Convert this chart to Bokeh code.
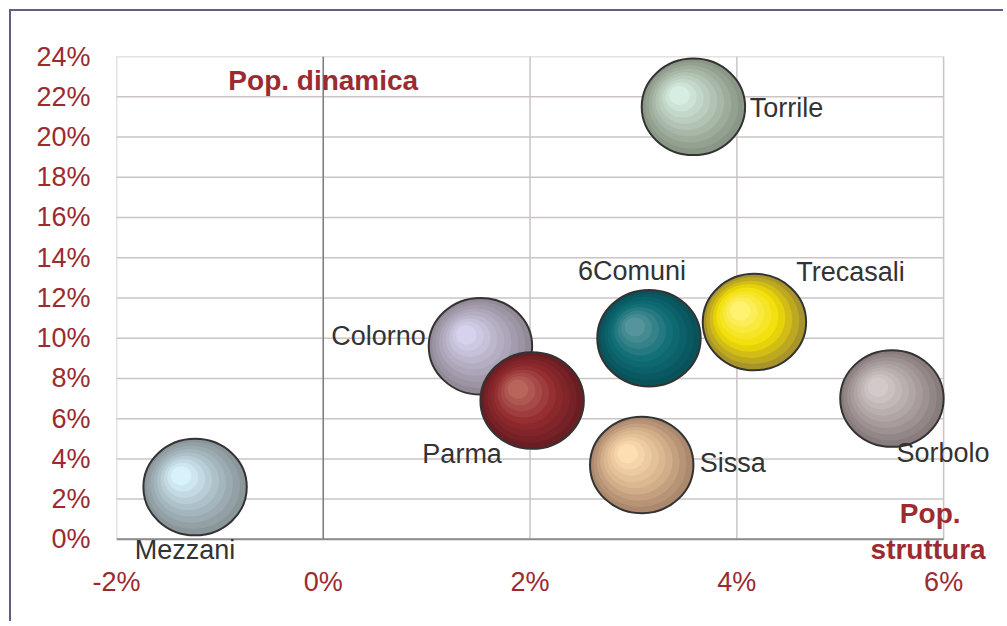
import numpy as np
from bokeh.plotting import figure
from bokeh.core.properties import value
from bokeh.models import (ColumnDataSource, FixedTicker, PrintfTickFormatter,
                          BoxAnnotation, Label, LabelSet, Range1d)
from bokeh.embed import file_html
from bokeh.resources import INLINE

# ---------------- data ----------------
names = ["Mezzani", "Colorno", "Parma", "6Comuni", "Sissa", "Trecasali", "Sorbolo", "Torrile"]
pop_struttura = [-1.24, 1.52, 2.02, 3.15, 3.08, 4.17, 5.50, 3.58]   # x, %
pop_dinamica = [2.6, 9.6, 6.9, 10.0, 3.7, 10.8, 7.0, 21.5]         # y, %
x_ticks = [-2, 0, 2, 4, 6]
y_ticks = [0, 2, 4, 6, 8, 10, 12, 14, 16, 18, 20, 22, 24]
X_MIN, X_MAX = -2, 6
Y_MIN, Y_MAX = 0, 24

# ---------------- style ----------------
outer_col = ["#8A969A", "#938A98", "#6A1E23", "#09525A", "#AC886E", "#A8942A", "#887C7C", "#8A9686"]
mid_col   = ["#A9BCC4", "#B2AABE", "#922A2E", "#0E6C75", "#D9B48E", "#F2DE05", "#ADA2A2", "#AEBEAE"]
inner_col = ["#D8F2FC", "#D6D2EE", "#B8655C", "#55949A", "#FDDDB2", "#FFF270", "#D2CACA", "#D6EEE2"]
label_dx = [-10, -102, -70, -17, 91, 96, 51, 93]
label_dy = [-63, 10, -53, 67, 2, 50, -54, -1]

RED = "#9B2B30"
FONT = "Liberation Sans"
GRID = "#CBC4C4"

def hex2rgb(h):
    h = h.lstrip("#")
    return np.array([int(h[i:i + 2], 16) for i in (0, 2, 4)], dtype=float)

def rgb2hex(c):
    c = np.clip(np.round(c), 0, 255).astype(int)
    return "#%02x%02x%02x" % tuple(c)

def grad(o, m, i, t):
    o, m, i = hex2rgb(o), hex2rgb(m), hex2rgb(i)
    if t < 0.45:
        return rgb2hex(o + (m - o) * (t / 0.45))
    return rgb2hex(m + (i - m) * ((t - 0.45) / 0.55))

BW, BH = 1.0, 4.8          # bubble width / height in data units
HX, HY = -0.17, 0.7        # highlight offset
N = 9
rx, ry, rw, rh, rc, la = [], [], [], [], [], []
for b in range(len(names)):
    for k in range(N):
        t = k / (N - 1)
        s = 1 - 0.8 * t
        rx.append(pop_struttura[b] + (1 - s) * HX)
        ry.append(pop_dinamica[b] + (1 - s) * HY)
        rw.append(BW * s)
        rh.append(BH * s)
        rc.append(grad(outer_col[b], mid_col[b], inner_col[b], t))
        la.append(1.0 if k == 0 else 0.0)
rings = ColumnDataSource(dict(x=rx, y=ry, w=rw, h=rh, c=rc, la=la))

W, H = 994, 612
p = figure(width=W, height=H, output_backend="svg", toolbar_location=None,
           x_range=Range1d(X_MIN, 6.55), y_range=Range1d(-1.15, Y_MAX),
           min_border_left=105, min_border_right=5, min_border_top=45, min_border_bottom=61)
p.styles = {"margin": "9px 0px 0px 9px",
            "border-left": "2px solid #5E5E86", "border-top": "2px solid #5E5E86"}
p.background_fill_color = "white"
p.border_fill_color = "white"
p.outline_line_color = None

p.xaxis.ticker = FixedTicker(ticks=x_ticks)
p.yaxis.ticker = FixedTicker(ticks=y_ticks)
for ax in (p.xaxis[0], p.yaxis[0]):
    ax.formatter = PrintfTickFormatter(format="%d%%")
    ax.major_label_text_font = FONT
    ax.major_label_text_font_size = "27px"
    ax.major_label_text_color = RED
    ax.major_tick_line_color = None
    ax.minor_tick_line_color = None
    ax.axis_line_color = None
p.yaxis.major_label_standoff = 20
p.xaxis.major_label_standoff = -2

# gridlines restricted to the plot area (-2..6, 0..24)
p.xgrid.visible = False
p.ygrid.visible = False
p.segment(x0=x_ticks, y0=[Y_MIN] * len(x_ticks), x1=x_ticks, y1=[Y_MAX] * len(x_ticks),
          line_color=GRID, line_width=1.5, level="underlay")
p.segment(x0=[X_MIN] * len(y_ticks), y0=y_ticks, x1=[X_MAX] * len(y_ticks), y1=y_ticks,
          line_color=GRID, line_width=1.5, level="underlay")

# bottom axis line and the 0% vertical line
p.add_layout(BoxAnnotation(left=X_MIN, right=X_MAX, bottom=Y_MIN - 0.05, top=Y_MIN + 0.05,
                           fill_color="#8C8C8C", fill_alpha=1, line_color=None, level="underlay"))
p.add_layout(BoxAnnotation(left=-0.007, right=0.007, bottom=Y_MIN, top=Y_MAX,
                           fill_color="#7E7E7E", fill_alpha=1, line_color=None, level="underlay"))

p.ellipse(x="x", y="y", width="w", height="h", source=rings, fill_color="c",
          line_color="#333333", line_width=2, line_alpha="la")

lbl = ColumnDataSource(dict(x=pop_struttura, y=pop_dinamica, t=names, dx=label_dx, dy=label_dy))
p.add_layout(LabelSet(x="x", y="y", text="t", source=lbl, x_offset="dx", y_offset="dy",
                      text_align="center", text_baseline="middle", text_font=value(FONT),
                      text_font_size=value("27px"), text_color="#333333"))

for txt, xx, yy in [("Pop. dinamica", 0.0, 22.8), ("Pop.", 5.87, 1.3), ("struttura", 5.85, -0.5)]:
    p.add_layout(Label(x=xx, y=yy, text=txt, text_align="center", text_baseline="middle",
                       text_font=FONT, text_font_size="28px", text_font_style="bold",
                       text_color=RED))

open("out.html", "w").write(file_html(p, INLINE))
